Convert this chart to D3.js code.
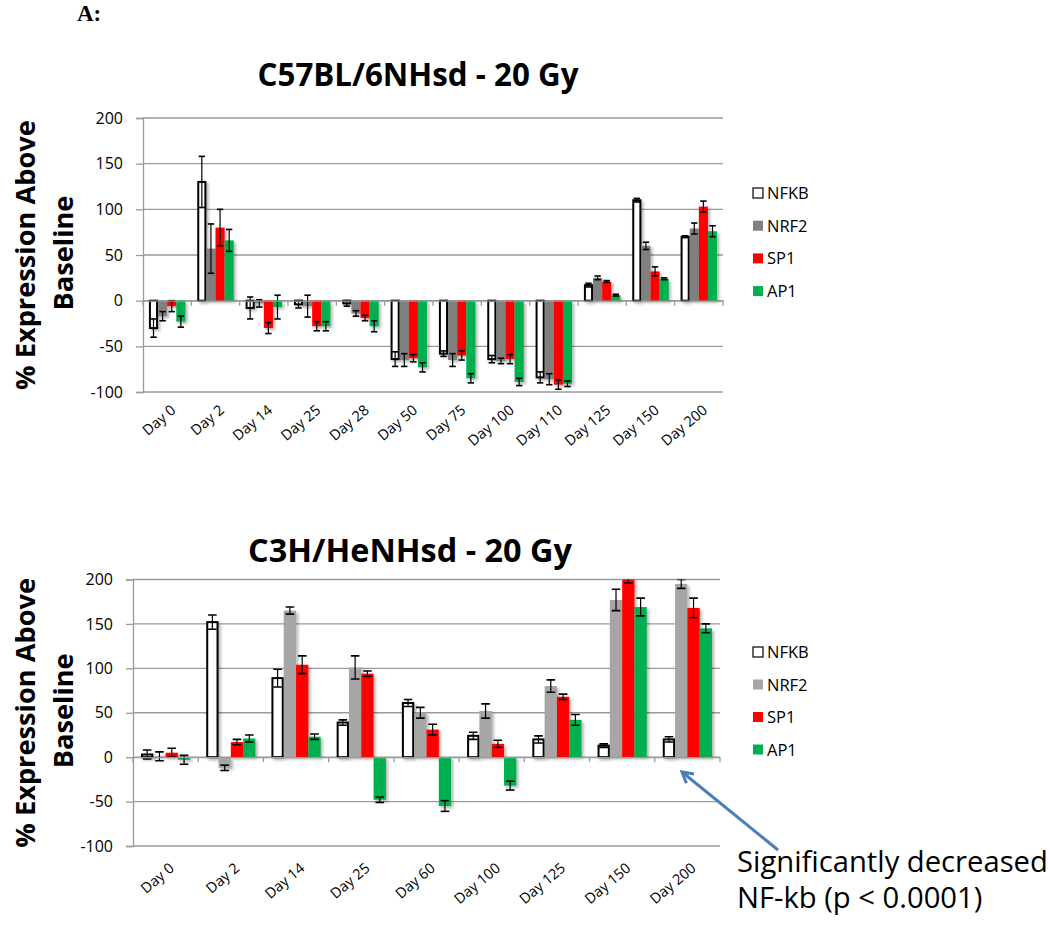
<!DOCTYPE html>
<html><head><meta charset="utf-8">
<script src="https://cdn.jsdelivr.net/npm/d3@7"></script>
<style>body{margin:0;background:#fff}svg{display:block}</style>
</head><body>
<svg id="c" width="1050" height="946"></svg>
<script>
// ---------- data ----------
const seriesNames = ["NFKB","NRF2","SP1","AP1"];
const yTicks = [200,150,100,50,0,-50,-100];

const daysTop = ["Day 0","Day 2","Day 14","Day 25","Day 28","Day 50","Day 75","Day 100","Day 110","Day 125","Day 150","Day 200"];
const nfkbTop    = [-30,130,-8,-4,-3,-64,-58,-64,-84,17,110,70];
const nfkbTopErr = [10,28,12,4,3,8,3,4,6,2,2,1];
const nrf2Top    = [-17,57,-3,-6,-14,-65,-65,-66,-86,25,60,79];
const nrf2TopErr = [5,27,4,12,3,7,7,3,6,2,4,6];
const sp1Top     = [-6,80,-30,-28,-19,-63,-60,-64,-92,21,32,103];
const sp1TopErr  = [6,20,6,5,3,4,5,5,5,1,5,6];
const ap1Top     = [-23,66,-7,-28,-28,-73,-85,-89,-91,6,24,76];
const ap1TopErr  = [6,12,13,5,6,5,5,4,3,1,1,6];

const daysBot = ["Day 0","Day 2","Day 14","Day 25","Day 60","Day 100","Day 125","Day 150","Day 200"];
const nfkbBot    = [3,152,89,39,61,24,20,13,20];
const nfkbBotErr = [5,8,10,3,4,4,4,2,3];
const nrf2Bot    = [1,-12,165,101,50,52,80,177,195];
const nrf2BotErr = [5,3,4,13,6,8,7,12,5];
const sp1Bot     = [5,17,104,94,31,15,68,201,168];
const sp1BotErr  = [5,3,10,3,6,4,3,5,11];
const ap1Bot     = [-3,21,23,-48,-55,-32,42,169,145];
const ap1BotErr  = [5,4,3,3,6,5,6,10,5];

// ---------- drawing ----------
const svg = d3.select("#c");
const defs = svg.append("defs");
const sh = defs.append("filter").attr("id","sh").attr("x","-30%").attr("y","-30%").attr("width","160%").attr("height","160%");
sh.append("feDropShadow").attr("dx",2).attr("dy",2).attr("stdDeviation",1.5).attr("flood-color","#000").attr("flood-opacity",0.3);

const FONT = "'Open Sans', 'Noto Sans', sans-serif";

function fit(sel, w){
  const n = sel.node(); const cur = n.getComputedTextLength();
  const fs = parseFloat(sel.attr("font-size"));
  sel.attr("font-size", fs*w/cur);
}

svg.append("text").attr("x",77).attr("y",21).attr("font-family","'Liberation Serif', serif")
  .attr("font-weight",700).attr("font-size",23).attr("fill","#000").text("A:");

function drawChart(cfg, id){
  const {days, series, x0, x1, yTop, yBot, title, titleX, titleY, titleW, legendY, legendStep} = cfg;
  const x = d3.scaleBand().domain(days).range([x0,x1]).paddingInner(0).paddingOuter(0);
  const xs = d3.scaleBand().domain(seriesNames).range([0,x.bandwidth()]).paddingInner(0).paddingOuter(0.65);
  const y = d3.scaleLinear().domain([-100,200]).range([yBot,yTop]);
  const g = svg.append("g");

  // title
  const t = g.append("text").attr("x",titleX).attr("y",titleY).attr("text-anchor","middle")
    .attr("font-family",FONT).attr("font-weight",700).attr("font-size",26).attr("fill","#000").text(title);
  fit(t, titleW);

  // y title
  const yc = (yTop+yBot)/2;
  const l1 = g.append("text").attr("transform",`translate(35,${yc}) rotate(-90)`).attr("text-anchor","middle")
    .attr("font-family",FONT).attr("font-weight",700).attr("font-size",26).text("% Expression Above");
  fit(l1, 270);
  g.append("text").attr("transform",`translate(73,${yc-2}) rotate(-90)`).attr("text-anchor","middle")
    .attr("font-family",FONT).attr("font-weight",700).attr("font-size",parseFloat(l1.attr("font-size"))).text("Baseline");

  // gridlines
  g.append("g").selectAll("line").data(yTicks).join("line")
    .attr("x1",x0).attr("x2",x1).attr("y1",d=>y(d)).attr("y2",d=>y(d))
    .attr("stroke","#9a9a9a").attr("stroke-width",1.3);

  // y axis
  const ya = g.append("g").attr("transform",`translate(${x0},0)`)
    .call(d3.axisLeft(y).tickValues(yTicks).tickSize(7).tickPadding(13).tickFormat(d=>String(d)));
  ya.select(".domain").attr("stroke","#9a9a9a").attr("stroke-width",1.3);
  ya.selectAll(".tick line").attr("stroke","#9a9a9a").attr("stroke-width",1.3);
  ya.selectAll(".tick text").attr("font-family",FONT).attr("font-size",16).attr("fill","#000");

  // bars
  const cp = "clip"+id;
  defs.append("clipPath").attr("id",cp).append("rect").attr("x",x0).attr("y",yTop).attr("width",x1-x0).attr("height",yBot-yTop);
  const bars = g.append("g").attr("clip-path",`url(#${cp})`);
  series.forEach((s)=>{
    const sg = bars.append("g").attr("filter","url(#sh)");
    sg.selectAll("rect").data(days.map((d,i)=>({d,v:s.vals[i]}))).join("rect")
      .attr("x",o=>x(o.d)+xs(s.name) + (s.stroke?1:0))
      .attr("width",xs.bandwidth() - (s.stroke?2:0))
      .attr("y",o=>Math.min(y(o.v),y(0)))
      .attr("height",o=>Math.abs(y(o.v)-y(0)))
      .attr("fill",s.color).attr("stroke",s.stroke||"none").attr("stroke-width",s.stroke?2:0);
  });
  // error bars
  series.forEach((s)=>{
    const eg = bars.append("g").attr("stroke","#000").attr("stroke-width",1.2);
    days.forEach((d,i)=>{
      const cx = x(d)+xs(s.name)+xs.bandwidth()/2;
      const v=s.vals[i], e=s.errs[i];
      const hw = xs.bandwidth()*0.35;
      eg.append("line").attr("x1",cx).attr("x2",cx).attr("y1",y(v+e)).attr("y2",y(v-e));
      eg.append("line").attr("x1",cx-hw).attr("x2",cx+hw).attr("y1",y(v+e)).attr("y2",y(v+e)).attr("stroke-width",1.6);
      eg.append("line").attr("x1",cx-hw).attr("x2",cx+hw).attr("y1",y(v-e)).attr("y2",y(v-e)).attr("stroke-width",1.6);
    });
  });

  // x axis at 0
  const xa = g.append("g").attr("transform",`translate(0,${y(0)})`)
    .call(d3.axisBottom(x).tickSize(0).tickFormat(""));
  xa.select(".domain").attr("stroke","#9a9a9a").attr("stroke-width",1.3);
  g.append("g").selectAll("line").data(d3.range(days.length+1)).join("line")
    .attr("x1",i=>x0+i*x.step()).attr("x2",i=>x0+i*x.step())
    .attr("y1",y(0)).attr("y2",y(0)+5).attr("stroke","#9a9a9a").attr("stroke-width",1.3);

  // x labels
  g.append("g").selectAll("text").data(days).join("text")
    .attr("transform",d=>`translate(${x(d)+x.bandwidth()/2+3},${yBot+cfg.labelOff}) rotate(-40)`)
    .attr("text-anchor","end").attr("dy","0.7em").attr("font-family",FONT).attr("font-size",14.5).attr("fill","#000").text(d=>d);

  // legend
  series.forEach((s,i)=>{
    const ly = legendY + i*legendStep;
    g.append("rect").attr("x",753).attr("y",ly-5).attr("width",10).attr("height",10)
      .attr("fill",s.color).attr("stroke",s.stroke?"#000":"none").attr("stroke-width",s.stroke?1.2:0);
    g.append("text").attr("x",767).attr("y",ly+6).attr("font-family",FONT).attr("font-size",16.5).attr("fill","#000").text(s.name);
  });
}

drawChart({
  days: daysTop,
  series: [
    {name:"NFKB", vals:nfkbTop, errs:nfkbTopErr, color:"#ffffff", stroke:"#000"},
    {name:"NRF2", vals:nrf2Top, errs:nrf2TopErr, color:"#808080"},
    {name:"SP1",  vals:sp1Top,  errs:sp1TopErr,  color:"#ff0000"},
    {name:"AP1",  vals:ap1Top,  errs:ap1TopErr,  color:"#00b050"}
  ],
  x0:143, x1:723, yTop:118, yBot:392,
  title:"C57BL/6NHsd - 20 Gy", titleX:418, titleY:86, titleW:321,
  legendY:193, legendStep:32.7, labelOff:12
},"a");

drawChart({
  days: daysBot,
  series: [
    {name:"NFKB", vals:nfkbBot, errs:nfkbBotErr, color:"#ffffff", stroke:"#000"},
    {name:"NRF2", vals:nrf2Bot, errs:nrf2BotErr, color:"#a6a6a6"},
    {name:"SP1",  vals:sp1Bot,  errs:sp1BotErr,  color:"#ff0000"},
    {name:"AP1",  vals:ap1Bot,  errs:ap1BotErr,  color:"#00b050"}
  ],
  x0:133, x1:720, yTop:579.5, yBot:846,
  title:"C3H/HeNHsd - 20 Gy", titleX:410, titleY:562, titleW:324,
  legendY:652, legendStep:32.5, labelOff:16
},"b");

// annotation arrow
const mk = defs.append("marker").attr("id","arr").attr("viewBox","0 0 10 10").attr("refX",8).attr("refY",5)
  .attr("markerWidth",5).attr("markerHeight",5).attr("orient","auto");
mk.append("path").attr("d","M1,1 L8,5 L1,9").attr("fill","none").attr("stroke","#4a7ebb").attr("stroke-width",2);
svg.append("line").attr("x1",778).attr("y1",850).attr("x2",682).attr("y2",772)
  .attr("stroke","#4a7ebb").attr("stroke-width",3).attr("marker-end","url(#arr)");

const a1 = svg.append("text").attr("x",737).attr("y",872).attr("font-family",FONT).attr("font-size",26).attr("fill","#000").text("Significantly decreased");
fit(a1, 311);
svg.append("text").attr("x",737).attr("y",908).attr("font-family",FONT).attr("font-size",parseFloat(a1.attr("font-size"))).attr("fill","#000").text("NF-kb (p < 0.0001)");
</script>
</body></html>
